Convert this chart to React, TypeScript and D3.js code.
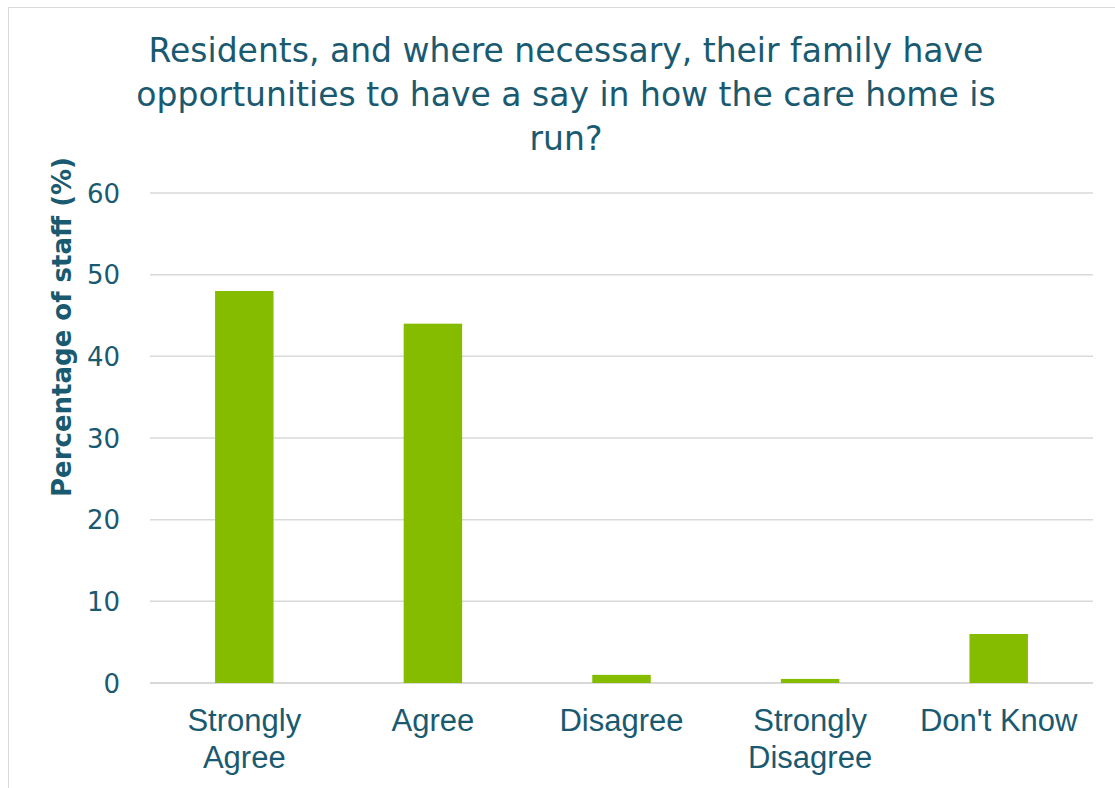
import React from "react";
import * as d3 from "d3";

const categories = ["Strongly Agree", "Agree", "Disagree", "Strongly Disagree", "Don't Know"];
const categoryLines = [["Strongly", "Agree"], ["Agree"], ["Disagree"], ["Strongly", "Disagree"], ["Don't Know"]];
const values = [48, 44, 1, 0.5, 6];
const yTicks = [0, 10, 20, 30, 40, 50, 60];
const titleLines = [
  "Residents, and where necessary, their family have",
  "opportunities to have a say in how the care home is",
  "run?",
];
const yAxisTitle = "Percentage of staff (%)";

export default function App() {
  const W = 1115, H = 788;
  const left = 150, right = 1093, top = 193, bottom = 683;
  const x = d3.scaleBand<string>().domain(categories).range([left, right]).paddingInner(0.69).paddingOuter(0.345);
  const y = d3.scaleLinear().domain([0, 60]).range([bottom, top]);
  const textColor = "#1A5A70";
  const sans = "'DejaVu Sans', Verdana, sans-serif";
  const arial = "'Liberation Sans', Arial, sans-serif";
  return (
    <svg width={W} height={H} style={{ position: "absolute", left: 0, top: 0, background: "#fff" }}>
      <rect x={8.5} y={7.5} width={1120} height={800} fill="#fff" stroke="#d9d9d9" strokeWidth={1} />
      {titleLines.map((t, i) => (
        <text key={i} x={566} y={62 + i * 44} textAnchor="middle" fontFamily={sans} fontSize={33} fill={textColor}>{t}</text>
      ))}
      {yTicks.map((t) => (
        <g key={t}>
          <line x1={left} x2={right} y1={y(t)} y2={y(t)} stroke="#d9d9d9" strokeWidth={t === 0 ? 2 : 1.5} />
          <text x={120} y={y(t) + 9.5} textAnchor="end" fontFamily={sans} fontSize={26} fill={textColor}>{t}</text>
        </g>
      ))}
      {categories.map((c, i) => (
        <rect key={c} x={x(c)} y={y(values[i])} width={x.bandwidth()} height={y(0) - y(values[i])} fill="#86BC00" />
      ))}
      {categories.map((c, i) => (
        <text key={c} textAnchor="middle" fontFamily={arial} fontSize={31} fill={textColor}>
          {categoryLines[i].map((l, j) => (
            <tspan key={j} x={(x(c) as number) + x.bandwidth() / 2} y={731 + j * 37}>{l}</tspan>
          ))}
        </text>
      ))}
      <text transform={`translate(71,327) rotate(-90)`} textAnchor="middle" fontFamily={sans} fontSize={26} fontWeight="bold" fill={textColor}>{yAxisTitle}</text>
    </svg>
  );
}
